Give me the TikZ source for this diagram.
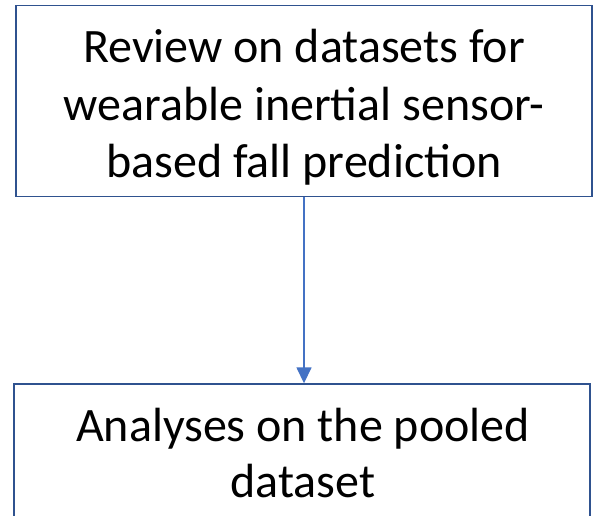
\documentclass[tikz,border=0pt]{standalone}
\usepackage{fontspec}
\setmainfont{Carlito}
\usetikzlibrary{arrows.meta}
\definecolor{boxline}{HTML}{2F528F}
\definecolor{flow}{HTML}{4472C4}
\begin{document}
\begin{tikzpicture}[x=1pt,y=-1pt,
  stagebox/.style={draw=boxline,line width=1.3pt,rectangle,inner sep=0pt,
    minimum width=576pt,anchor=north},
  stageline/.style={anchor=base,inner sep=0pt,font=\fontsize{48}{57}\selectfont},
  flowarrow/.style={draw=flow,line width=1.5pt,-{Triangle[width=15pt,length=16pt]}}]
\useasboundingbox (0,0) rectangle (593,515);
\clip (0,0) rectangle (593,515);
% first stage
\node[stagebox,minimum height=191pt] (review) at (304,5) {};
\node[stageline] (r1) at (304,62) {Review on datasets for};
\node[stageline] (r2) at (304,120) {wearable inertial sensor-};
\node[stageline] (r3) at (304,177) {based fall prediction};
% second stage (runs past the lower edge)
\node[stagebox,minimum height=180pt] (pooled) at (302,383.3) {};
\node[stageline] (p1) at (303,441) {Analyses on the pooled};
\node[stageline] (p2) at (303,497) {dataset};
% connector
\draw[flowarrow] (review.south -| r3) -- (pooled.north -| r3);
\end{tikzpicture}
\end{document}
